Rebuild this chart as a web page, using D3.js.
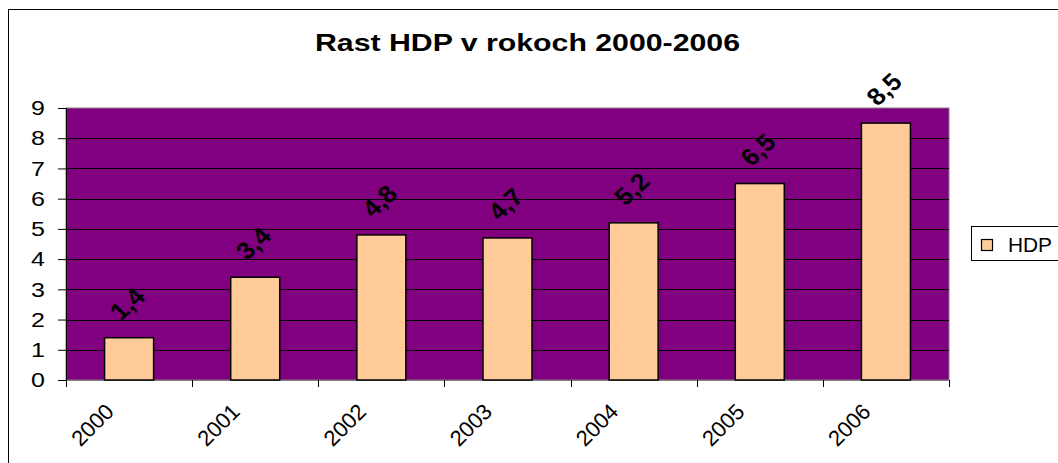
<!DOCTYPE html>
<html>
<head>
<meta charset="utf-8">
<script src="https://cdn.jsdelivr.net/npm/d3@7"></script>
<style>
  body { margin: 0; background: #fff; }
  svg { display: block; font-family: Arial, "Liberation Sans", sans-serif; }
</style>
</head>
<body>
<svg id="chart" width="1058" height="463"></svg>
<script>
const years = ["2000", "2001", "2002", "2003", "2004", "2005", "2006"];
const hdp = [1.4, 3.4, 4.8, 4.7, 5.2, 6.5, 8.5];
const hdpLabels = ["1,4", "3,4", "4,8", "4,7", "5,2", "6,5", "8,5"];
const yTicks = [0, 1, 2, 3, 4, 5, 6, 7, 8, 9];
const title = "Rast HDP v rokoch 2000-2006";
const seriesName = "HDP";

const svg = d3.select("#chart");

// outer chart frame
svg.append("rect")
  .attr("x", 8.5).attr("y", 9.5)
  .attr("width", 1100).attr("height", 500)
  .attr("fill", "#fff").attr("stroke", "#000").attr("stroke-width", 1);

const plotLeft = 66, plotRight = 949, plotTop = 108, plotBottom = 380;

const x = d3.scaleBand().domain(years).range([plotLeft, plotRight]).paddingInner(0).paddingOuter(0);
const y = d3.scaleLinear().domain([0, 9]).range([plotBottom, plotTop]);

// plot background
svg.append("rect")
  .attr("x", plotLeft).attr("y", plotTop)
  .attr("width", plotRight - plotLeft).attr("height", plotBottom - plotTop)
  .attr("fill", "#800080")
  .attr("stroke", "#808080").attr("stroke-width", 1);

// gridlines
svg.append("g")
  .selectAll("line")
  .data(yTicks.filter(d => d > 0 && d < 9))
  .enter().append("line")
  .attr("x1", plotLeft).attr("x2", plotRight)
  .attr("y1", d => Math.round(y(d)) + 0.5).attr("y2", d => Math.round(y(d)) + 0.5)
  .attr("stroke", "#000").attr("stroke-width", 1);

// y axis (ticks + domain from d3, labels drawn separately so they can be stretched)
const yAxis = svg.append("g")
  .attr("transform", "translate(" + plotLeft + ",0)")
  .call(d3.axisLeft(y).tickValues(yTicks).tickSize(8).tickFormat(""));
yAxis.select(".domain").attr("stroke", "#000");
yAxis.selectAll("line").attr("stroke", "#000");

svg.append("g")
  .selectAll("text")
  .data(yTicks)
  .enter().append("text")
  .attr("transform", d => "translate(45," + y(d) + ") scale(1.25,1)")
  .attr("dy", "0.36em")
  .attr("text-anchor", "end")
  .attr("font-size", 20)
  .attr("fill", "#000")
  .text(d => d);

// x axis line + ticks at category boundaries
svg.append("line")
  .attr("x1", plotLeft).attr("x2", plotRight)
  .attr("y1", plotBottom + 0.5).attr("y2", plotBottom + 0.5)
  .attr("stroke", "#808080");
svg.append("g")
  .selectAll("line")
  .data(years.concat(["end"]))
  .enter().append("line")
  .attr("x1", (d, i) => Math.round(plotLeft + i * x.bandwidth()) + 0.5)
  .attr("x2", (d, i) => Math.round(plotLeft + i * x.bandwidth()) + 0.5)
  .attr("y1", plotBottom).attr("y2", plotBottom + 7)
  .attr("stroke", "#000");

// x labels
svg.append("g")
  .selectAll("text")
  .data(years)
  .enter().append("text")
  .attr("transform", d => "translate(" + (x(d) + x.bandwidth() / 2 - 14) + "," + (plotBottom + 33) + ") rotate(-45)")
  .attr("text-anchor", "end")
  .attr("font-size", 22)
  .attr("fill", "#000")
  .text(d => d);

// bars
const barW = 49;
svg.append("g")
  .selectAll("rect")
  .data(hdp)
  .enter().append("rect")
  .attr("x", (d, i) => x(years[i]) + x.bandwidth() / 2 - barW / 2)
  .attr("y", d => y(d))
  .attr("width", barW)
  .attr("height", d => plotBottom - y(d))
  .attr("fill", "#FFCC99")
  .attr("stroke", "#000").attr("stroke-width", 1.5);

// data labels
svg.append("g")
  .selectAll("text")
  .data(hdp)
  .enter().append("text")
  .attr("transform", (d, i) => "translate(" + (x(years[i]) + x.bandwidth() / 2 - 2) + "," + (y(d) - 34) + ") scale(1.1,1) rotate(-45)")
  .attr("text-anchor", "middle")
  .attr("dominant-baseline", "central")
  .attr("font-size", 24)
  .attr("font-weight", "bold")
  .attr("fill", "#000")
  .text((d, i) => hdpLabels[i]);

// title
svg.append("text")
  .attr("x", 527.5).attr("y", 51)
  .attr("text-anchor", "middle")
  .attr("font-size", 24.5)
  .attr("font-weight", "bold")
  .attr("textLength", 425)
  .attr("lengthAdjust", "spacingAndGlyphs")
  .text(title);

// legend
svg.append("rect")
  .attr("x", 971.5).attr("y", 226.5)
  .attr("width", 100).attr("height", 34)
  .attr("fill", "#fff").attr("stroke", "#000");
svg.append("rect")
  .attr("x", 981.5).attr("y", 239.5)
  .attr("width", 11).attr("height", 11)
  .attr("fill", "#FFCC99").attr("stroke", "#000").attr("stroke-width", 1.2);
svg.append("text")
  .attr("x", 1008).attr("y", 252)
  .attr("font-size", 20)
  .attr("textLength", 44)
  .attr("lengthAdjust", "spacingAndGlyphs")
  .attr("fill", "#000")
  .text(seriesName);
</script>
</body>
</html>
